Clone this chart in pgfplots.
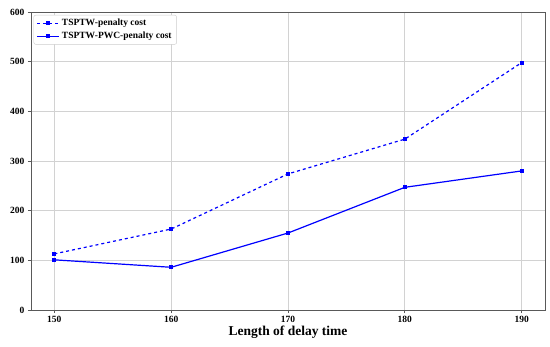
\documentclass[border=0pt]{standalone}
\usepackage{fontspec}
\setmainfont{Liberation Serif}
\usepackage{pgfplots}
\pgfplotsset{compat=1.18}
\begin{document}
\begin{tikzpicture}[x=1pt,y=1pt]
\begin{axis}[
  scale only axis,
  width=514pt, height=298pt,
  xmin=148, xmax=192, ymin=0, ymax=600,
  xtick={150,160,170,180,190},
  ytick={0,100,200,300,400,500,600},
  tick align=outside,
  xtick pos=bottom, ytick pos=left,
  major tick length=3pt,
  grid=major,
  grid style={gray!35, line width=0.8pt},
  axis line style={black!65, line width=0.9pt},
  every tick/.style={black!65, line width=0.8pt},
  /pgf/number format/assume math mode=true,
  /pgf/number format/1000 sep={},
  tick label style={font=\fontsize{9.5}{10}\selectfont\bfseries},
  xlabel={Length of delay time},
  xlabel style={font=\fontsize{13.5}{15}\selectfont\bfseries, yshift=4pt},
  legend cell align=left,
  legend image code/.code={\draw[mark repeat=2,mark phase=2,#1] plot coordinates {(0pt,0pt)(11pt,0pt)(22pt,0pt)};},
  legend style={font=\fontsize{9.5}{11}\selectfont\bfseries, draw=black!20, rounded corners=2pt, at={(0.005,0.99)}, anchor=north west, row sep=1pt},
]
\addplot[blue, dashed, line width=1.2pt, mark=square*, mark size=1.3pt, mark options={solid}]
  coordinates {(150,113) (160,163) (170,274) (180,344) (190,498)};
\addlegendentry{TSPTW-penalty cost}
\addplot[blue, line width=1.2pt, mark=square*, mark size=1.3pt]
  coordinates {(150,101) (160,86) (170,155) (180,247) (190,280)};
\addlegendentry{TSPTW-PWC-penalty cost}
\end{axis}
\path (current axis.south west) ++(-31pt,-37pt);
\path (current axis.north east) ++(5pt,12pt);
\end{tikzpicture}
\end{document}
